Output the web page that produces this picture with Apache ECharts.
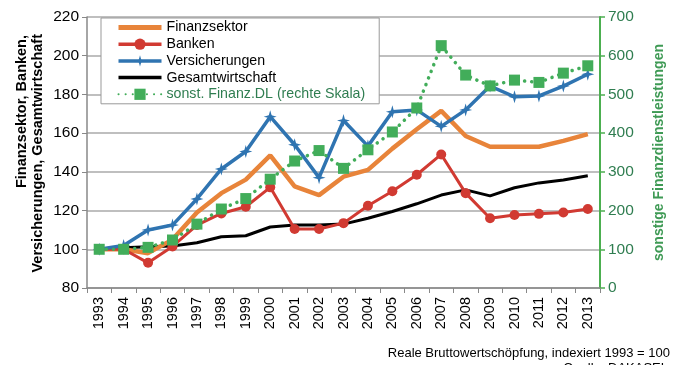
<!DOCTYPE html>
<html>
<head>
<meta charset="utf-8">
<script src="https://cdn.jsdelivr.net/npm/echarts@6/dist/echarts.min.js"></script>
<style>
html,body{margin:0;padding:0;background:#fff;}
#chart{width:681px;height:365px;}
</style>
</head>
<body>
<div id="chart"></div>
<script>
const years = ['1993','1994','1995','1996','1997','1998','1999','2000','2001','2002','2003','2004','2005','2006','2007','2008','2009','2010','2011','2012','2013'];
const finanzsektor = [100,100,98,105,119,129,136,148.5,132.5,128,137.5,141,152,162,171.5,158.5,153,153,153,156,159.5];
const banken = [100,100,93,101.5,112.5,118.5,122,132,110.5,110.5,113.5,122.5,130,138.5,149,129,116,117.7,118.3,119,120.8];
const versicherungen = [100,102,110,112.5,126,141.5,150.5,168.5,154,137,166.5,153.3,171,172,163.5,172,184.3,178.8,179.2,184.3,190.4];
const gesamtwirtschaft = [100,100.8,101.3,101.7,103.4,106.5,107,111.5,112.5,112.5,113,116,119.5,123.5,128,130.7,127.6,131.8,134.3,135.8,138];
const sonstFinanzDL = [100,100,105,124,165,204,231,281,328,355,309,357,403,465,626,550,522,537,531,555,574];
const leftTicks = {min:80, max:220, interval:20};
const rightTicks = {min:0, max:700, interval:100};
const names = ['Finanzsektor','Banken','Versicherungen','Gesamtwirtschaft','sonst. Finanz.DL (rechte Skala)'];

const chart = echarts.init(document.getElementById('chart'), null, {renderer:'canvas'});
const FONT = '"Liberation Sans", Arial, sans-serif';
const greenDark = '#2f7d50';
const star = 'path://M0,-10 L2.2,-2.2 L10,0 L2.2,2.2 L0,10 L-2.2,2.2 L-10,0 L-2.2,-2.2 Z';
const hidden = {color:'rgba(0,0,0,0)', borderColor:'rgba(0,0,0,0)', borderWidth:0};

chart.setOption({
  animation:false,
  textStyle:{fontFamily:FONT},
  grid:{left:87, right:81, top:17, bottom:77},
  legend:{
    orient:'vertical', left:101, top:18,
    itemWidth:43, itemHeight:14, itemGap:1.7,
    padding:[2,14,2,15],
    backgroundColor:'#fff', borderColor:'#999', borderWidth:1,
    textStyle:{fontSize:14.2, lineHeight:15, color:'#000', fontFamily:FONT},
    data:[
      {name:names[0], itemStyle:hidden, lineStyle:{width:5}},
      {name:names[1], lineStyle:{width:3.5}},
      {name:names[2], lineStyle:{width:3.5}},
      {name:names[3], itemStyle:hidden, lineStyle:{width:3.5}},
      {name:names[4], textStyle:{color:greenDark}}
    ]
  },
  xAxis:{
    type:'category', data:years, boundaryGap:true,
    axisLine:{lineStyle:{color:'#888', width:1.5}},
    axisTick:{show:true, length:5, lineStyle:{color:'#888'}},
    axisLabel:{rotate:90, fontSize:14.5, color:'#000', margin:9, fontFamily:FONT}
  },
  yAxis:[
    {
      type:'value', min:leftTicks.min, max:leftTicks.max, interval:leftTicks.interval,
      axisLine:{show:true, lineStyle:{color:'#888', width:1.5}},
      axisTick:{show:true, length:5, lineStyle:{color:'#888'}},
      axisLabel:{fontSize:15.5, color:'#000', margin:8, fontFamily:FONT},
      splitLine:{lineStyle:{color:'#bfbfbf', width:2}}
    },
    {
      type:'value', min:rightTicks.min, max:rightTicks.max, interval:rightTicks.interval,
      position:'right',
      axisLine:{show:true, lineStyle:{color:'#4caf50', width:2}},
      axisTick:{show:true, length:5, lineStyle:{color:'#4caf50', width:1.5}},
      axisLabel:{fontSize:15.5, color:greenDark, margin:8, fontFamily:FONT},
      splitLine:{show:false},
      name:'sonstige Finanzdienstleistungen', nameLocation:'middle', nameGap:52, nameRotate:90,
      nameTextStyle:{fontSize:14, fontWeight:'bold', color:'#3f9a55', fontFamily:FONT}
    }
  ],
  series:[
    {name:names[0], type:'line', data:finanzsektor, symbol:'none', z:3,
     lineStyle:{color:'#e8843a', width:4.5}, itemStyle:{color:'#e8843a'}},
    {name:names[1], type:'line', data:banken, symbol:'circle', symbolSize:10, z:4,
     lineStyle:{color:'#d13a32', width:3}, itemStyle:{color:'#d13a32'}},
    {name:names[2], type:'line', data:versicherungen, symbol:star, symbolSize:13, z:5,
     lineStyle:{color:'#2f74b1', width:3.5}, itemStyle:{color:'#2f74b1'}},
    {name:names[3], type:'line', data:gesamtwirtschaft, symbol:'none', z:2,
     lineStyle:{color:'#000', width:3}, itemStyle:{color:'#000'}},
    {name:names[4], type:'line', yAxisIndex:1, data:sonstFinanzDL, symbol:'rect', symbolSize:11, z:6,
     lineStyle:{color:'#42ad5a', width:3.5, type:[0.1,7], cap:'round'}, itemStyle:{color:'#42ad5a'}}
  ],
  graphic:[
    {type:'text', x:22, y:35, rotation:Math.PI/2,
     style:{text:'Finanzsektor, Banken,', font:'bold 14.5px '+FONT, fill:'#000', textAlign:'right', textVerticalAlign:'middle'}},
    {type:'text', x:38, y:34, rotation:Math.PI/2,
     style:{text:'Versicherungen, Gesamtwirtschaft', font:'bold 14.5px '+FONT, fill:'#000', textAlign:'right', textVerticalAlign:'middle'}},
    {type:'text', x:670, y:353,
     style:{text:'Reale Bruttowertschöpfung, indexiert 1993 = 100', font:'13px '+FONT, fill:'#000', textAlign:'right', textVerticalAlign:'middle'}},
    {type:'text', x:668, y:362,
     style:{text:'Quelle: DAKASEL', font:'13px '+FONT, fill:'#000', textAlign:'right', textVerticalAlign:'top'}}
  ]
});
</script>
</body>
</html>
